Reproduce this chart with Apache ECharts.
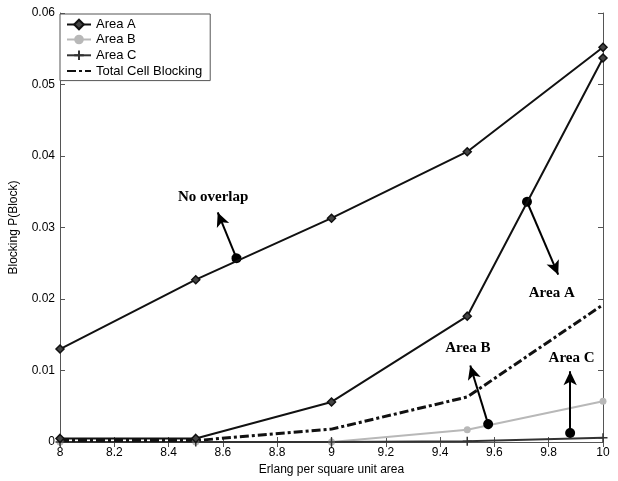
<!DOCTYPE html>
<html><head><meta charset="utf-8">
<script src="https://cdn.jsdelivr.net/npm/echarts@6/dist/echarts.min.js"></script>
<style>html,body{margin:0;padding:0;background:#fff}#c{width:618px;height:481px}</style>
</head><body><div id="c"></div>
<script>
const xValues = [8, 8.5, 9, 9.5, 10];
const noOverlap = [0.0130, 0.0227, 0.0313, 0.0406, 0.0552];
const areaA = [0.0005, 0.0005, 0.0056, 0.0176, 0.0537];
const areaB = [0, 0, 0, 0.0017, 0.0057];
const areaC = [0, 0, 0, 0.0001, 0.0006];
const totalCell = [0.0002, 0.0002, 0.0018, 0.0063, 0.0192];
// annotations: [label, labelX, labelY, dotX, dotY, arrowX, arrowY]
const annotations = [
  ['No overlap', 8.566, 0.0342, 8.65, 0.0257, 8.581, 0.0321],
  ['Area A', 9.813, 0.0208, 9.72, 0.0336, 9.835, 0.0234],
  ['Area B', 9.504, 0.0131, 9.577, 0.0025, 9.511, 0.0107],
  ['Area C', 9.886, 0.0117, 9.879, 0.00126, 9.879, 0.0099]
];
const pair = a => xValues.map((x, i) => [x, a[i]]);
const chart = echarts.init(document.getElementById('c'));
const plusPath = 'path://M0,-5L0,5M-5,0L5,0';
const axisCommon = {
  axisLine: {show: true, lineStyle: {color: '#555', width: 1}},
  axisTick: {show: true, inside: true, length: 5, lineStyle: {color: '#555'}},
  splitLine: {show: false}
};
chart.setOption({
  animation: false,
  backgroundColor: '#fff',
  textStyle: {fontFamily: 'Liberation Sans, Arial, sans-serif'},
  grid: {left: 59, right: 15, top: 13, bottom: 38},
  legend: {
    left: 60, top: 14, orient: 'vertical',
    backgroundColor: '#fff', borderColor: '#555', borderWidth: 1,
    padding: [4, 8, 3, 6], itemGap: 2, itemWidth: 24, itemHeight: 12,
    textStyle: {fontSize: 13, color: '#000', fontFamily: 'Liberation Sans, Arial, sans-serif'},
    data: ['Area A', 'Area B', 'Area C', {name: 'Total Cell Blocking', itemStyle: {opacity: 0}}]
  },
  xAxis: [
    Object.assign({type: 'value', min: 8, max: 10, interval: 0.2,
      name: 'Erlang per square unit area', nameLocation: 'middle', nameGap: 22,
      nameTextStyle: {fontSize: 12, color: '#000'},
      axisLabel: {fontSize: 12, color: '#000', margin: 5,
        formatter: v => String(Math.round(v * 10) / 10)}}, axisCommon),
    Object.assign({type: 'value', position: 'top', min: 8, max: 10, interval: 0.2,
      axisLabel: {show: false}}, axisCommon)
  ],
  yAxis: [
    Object.assign({type: 'value', min: 0, max: 0.06, interval: 0.01,
      name: 'Blocking P(Block)', nameLocation: 'middle', nameGap: 40,
      nameTextStyle: {fontSize: 12, color: '#000'},
      axisLabel: {fontSize: 12, color: '#000', margin: 5,
        formatter: v => v === 0 ? '0' : (Math.round(v * 100) / 100).toFixed(2)}}, axisCommon),
    Object.assign({type: 'value', position: 'right', min: 0, max: 0.06, interval: 0.01,
      axisLabel: {show: false}}, axisCommon)
  ],
  series: [
    {name: 'Area A', type: 'line', data: pair(noOverlap), symbol: 'diamond', symbolSize: 8,
      lineStyle: {color: '#111', width: 2}, itemStyle: {color: '#444', borderColor: '#111', borderWidth: 1.5}, z: 5},
    {name: 'Area A', type: 'line', data: pair(areaA), symbol: 'diamond', symbolSize: 8,
      lineStyle: {color: '#111', width: 2}, itemStyle: {color: '#444', borderColor: '#111', borderWidth: 1.5}, z: 5},
    {name: 'Area B', type: 'line', data: pair(areaB), symbol: 'circle', symbolSize: 7,
      lineStyle: {color: '#b8b8b8', width: 2}, itemStyle: {color: '#b8b8b8'}, z: 4},
    {name: 'Area C', type: 'line', data: pair(areaC), symbol: plusPath, symbolSize: 9,
      lineStyle: {color: '#333', width: 2}, itemStyle: {color: 'none', borderColor: '#333', borderWidth: 1.5}, z: 4},
    {name: 'Total Cell Blocking', type: 'line', data: pair(totalCell), symbol: 'none',
      lineStyle: {color: '#111', width: 3, type: [9, 3, 3, 3]}, itemStyle: {color: '#111'}, z: 4},
    {name: 'annot', type: 'scatter', data: annotations.map(a => ({value: [a[1], a[2]], label: {formatter: a[0]}})),
      symbolSize: 1, silent: true, itemStyle: {color: '#000', opacity: 0},
      label: {show: true, position: [0, 0], align: 'center', verticalAlign: 'middle',
        fontFamily: 'Liberation Serif, Times New Roman, serif', opacity: 1,
        fontWeight: 'bold', fontSize: 15, color: '#000', textBorderWidth: 0},
      markLine: {silent: true, animation: false, label: {show: false},
        lineStyle: {color: '#000', width: 2, type: 'solid'},
        data: annotations.map(a => [
          {coord: [a[3], a[4]], symbol: 'circle', symbolSize: 10},
          {coord: [a[5], a[6]], symbol: 'arrow', symbolSize: [10, 14]}
        ])}, z: 6}
  ]
});
</script></body></html>
